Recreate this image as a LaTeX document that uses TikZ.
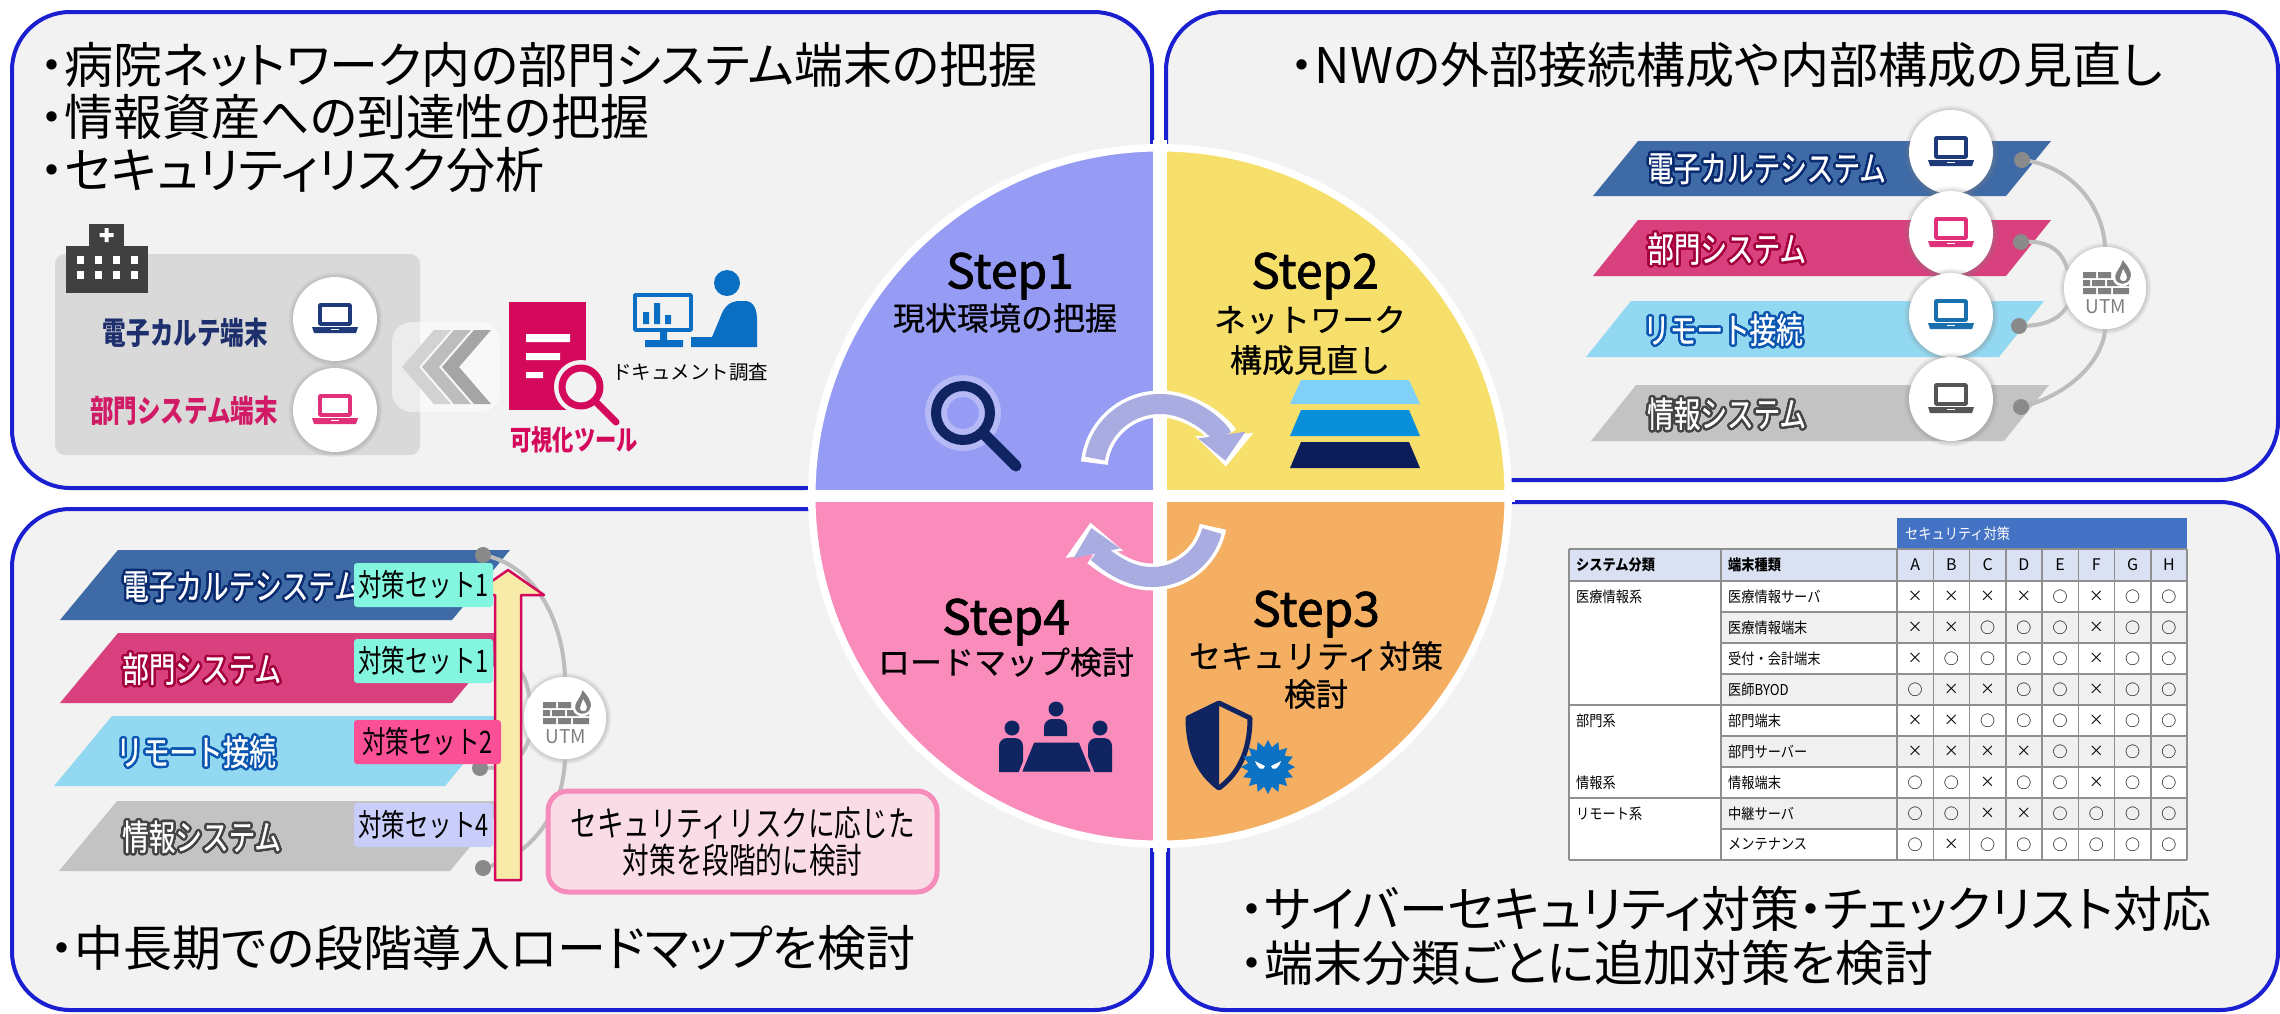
\documentclass[tikz,border=0pt]{standalone}
\usepackage{fontspec}
\setmainfont{Noto Sans CJK JP}
\newfontfamily\headf[RawFeature=+palt]{Noto Sans CJK JP}
\newfontfamily\condf[FakeStretch=0.76]{Noto Sans CJK JP}
\newfontfamily\tablef[FakeStretch=0.88]{Noto Sans CJK JP}
\newfontfamily\stepf[FakeBold=1.6]{Noto Sans CJK JP}
\newfontfamily\subf[FakeBold=0.7]{Noto Sans CJK JP}
\newfontfamily\bandf[FakeStretch=0.76,FakeBold=0.6]{Noto Sans CJK JP}
\usepackage[copies]{contour}
\contourlength{2.4pt}
\contournumber{24}
\usetikzlibrary{shadows,arrows.meta}
\newcommand\setfs[1]{\fontsize{#1}{#1}\selectfont}

\definecolor{panelblue}{HTML}{1A1FD0}
\definecolor{panelbg}{HTML}{F2F2F2}
\definecolor{sOne}{HTML}{969CF3}
\definecolor{sTwo}{HTML}{F7DF6B}
\definecolor{sThree}{HTML}{F5AF62}
\definecolor{sFour}{HTML}{F98CBB}
\definecolor{navy}{HTML}{0F2461}
\definecolor{crim}{HTML}{D4095B}
\definecolor{bandA}{HTML}{3E6AA6}
\definecolor{bandB}{HTML}{D9407E}
\definecolor{bandC}{HTML}{93D8F1}
\definecolor{bandD}{HTML}{C3C3C3}
\definecolor{glowA}{HTML}{0B2B70}
\definecolor{glowB}{HTML}{A3003C}
\definecolor{glowC}{HTML}{0A56B0}
\definecolor{glowD}{HTML}{444444}
\definecolor{lapA}{HTML}{1F3A7A}
\definecolor{lapB}{HTML}{E0307A}
\definecolor{lapC}{HTML}{1A6FAE}
\definecolor{lapD}{HTML}{555555}
\definecolor{wirec}{HTML}{BDBDBD}
\definecolor{dotgray}{HTML}{8A8A8A}
\definecolor{utmgray}{HTML}{7F7F7F}
\definecolor{mint}{HTML}{84F6DF}
\definecolor{tagpink}{HTML}{FB4F96}
\definecolor{lav}{HTML}{C9CDF9}
\definecolor{arrowfill}{HTML}{F8EBAA}
\definecolor{callfill}{HTML}{FADCE7}
\definecolor{calledge}{HTML}{F58CB9}
\definecolor{cyc}{HTML}{A8ACE0}
\definecolor{tblue}{HTML}{4472C4}
\definecolor{thead}{HTML}{D9E1F2}
\definecolor{tgrid}{HTML}{8F8F8F}
\definecolor{trow}{HTML}{F0F0F0}
\definecolor{iconblue}{HTML}{0A6FC2}
\definecolor{layA}{HTML}{80D0F8}
\definecolor{layB}{HTML}{0A8FDB}
\definecolor{layC}{HTML}{0B1E5B}
\definecolor{virus}{HTML}{0B72C4}
\definecolor{bldg}{HTML}{404040}
\definecolor{boxgray}{HTML}{D9D9D9}
\definecolor{chevA}{HTML}{D2D2D2}
\definecolor{chevB}{HTML}{BDBDBD}
\definecolor{chevC}{HTML}{A5A5A5}
\definecolor{lblnavy}{HTML}{1D2F6C}
\definecolor{lblpink}{HTML}{D21B66}

% laptop glyph centred on a named point
\newcommand\laptopicon[2]{%
  \begin{scope}[shift={(#1)}]
    \draw[#2, line width=3.5pt] (-15,-14) rectangle (15,5);
    \fill[#2] (-23,8) -- (23,8) -- (21,14) -- (-21,14) -- cycle;
    \draw[white, line width=1pt] (-4,10.5) -- (4,10.5);
  \end{scope}}

% firewall glyph with caption, centred on a named point
\newcommand\utmicon[1]{%
  \begin{scope}[shift={(#1)}]
    \fill[utmgray] (-22,-16) rectangle (-9,-10) (-7,-16) rectangle (6,-10);
    \fill[utmgray] (-22,-8) rectangle (-15,-2) (-13,-8) rectangle (0,-2)
                   (2,-8) rectangle (15,-2) (17,-8) rectangle (24,-2);
    \fill[utmgray] (-22,0) rectangle (-9,6) (-7,0) rectangle (6,6) (8,0) rectangle (24,6);
    \filldraw[fill=utmgray, draw=white, line width=2.5pt]
      (17,-31) .. controls (23,-23) and (28,-19) .. (27,-11)
      .. controls (26,-5) and (21,-3) .. (17,-3)
      .. controls (11,-3) and (8,-8) .. (9,-13)
      .. controls (10,-18) and (15,-21) .. (17,-31) -- cycle;
    \fill[white] (18,-19) .. controls (21,-14) and (23,-11) .. (21,-8)
      .. controls (19,-6) and (15,-7) .. (15,-10)
      .. controls (15,-13) and (17,-14) .. (18,-19) -- cycle;
    \node[text=utmgray, font=\setfs{19}, inner sep=0pt] (#1-cap) at (1,19) {UTM};
  \end{scope}}

\begin{document}
\begin{tikzpicture}[x=1pt, y=-1pt, line join=round,
  panel/.style={draw=panelblue, line width=4pt, fill=panelbg, rounded corners=58pt},
  headtxt/.style={anchor=west, inner sep=0pt, font=\headf\setfs{49}},
  lapcircle/.style={circle, fill=white, minimum size=84pt, inner sep=0pt,
     circular drop shadow={shadow scale=1.13, shadow xshift=0pt, shadow yshift=0pt, opacity=0.45}},
  utmcircle/.style={lapcircle, minimum size=82pt},
  bandtxt/.style={anchor=west, inner sep=0pt, text=white, font=\bandf\setfs{35}},
  wire/.style={draw=wirec, line width=4pt},
  tagbox/.style={minimum width=139pt, minimum height=44pt, inner sep=0pt, rounded corners=3pt, font=\condf\setfs{31}},
  steptitle/.style={font=\stepf\setfs{48}, inner sep=0pt},
  stepsub/.style={font=\subf\setfs{32}, inner sep=0pt},
  tcell/.style={inner sep=0pt, font=\tablef\setfs{15}},
  tmark/.style={inner sep=0pt, font=\setfs{15}}
]
\useasboundingbox (0,0) rectangle (2280,1013);
\fill[white] (0,0) rectangle (2280,1013);

% ---------------- four panels ----------------
\draw[panel] (12,12) rectangle (1152,488);
\draw[panel] (1166,12) rectangle (2278,480);
\draw[panel] (12,509) rectangle (1152,1010);
\draw[panel] (1168,502) rectangle (2278,1010);

% ---------------- panel 1: current state ----------------
\node[headtxt] (h1a) at (40,65)  {・病院ネットワーク内の部門システム端末の把握};
\node[headtxt] (h1b) at (40,117) {・情報資産への到達性の把握};
\node[headtxt] (h1c) at (40,170) {・セキュリティリスク分析};

\fill[boxgray, rounded corners=10pt] (55,254) rectangle (420,455);
% hospital building
\fill[bldg] (89,224) rectangle (124,247);
\fill[bldg] (66,246) rectangle (148,293);
\fill[white] (104.5,228) rectangle (108.5,242) (99.5,233) rectangle (113.5,237);
\foreach \wx in {77,95,113,131} {
  \fill[white] (\wx,256) rectangle ++(7,8);
  \fill[white] (\wx,271) rectangle ++(7,8);
}
\node[anchor=east, inner sep=0pt, text=lblnavy, font=\condf\bfseries\setfs{31}] (lblA) at (268,333) {電子カルテ端末};
\node[anchor=east, inner sep=0pt, text=lblpink, font=\condf\bfseries\setfs{31}] (lblB) at (278,411) {部門システム端末};
\node[lapcircle] (tlA) at (335,319) {};
\node[lapcircle] (tlB) at (335,410) {};
\laptopicon{tlA}{lapA}
\laptopicon{tlB}{lapB}

% chevrons pointing to the terminals, on a soft white halo
\fill[white, opacity=0.5, rounded corners=20pt] (392,322) rectangle (500,412);
\foreach \L/\c in {402/chevA, 422/chevB, 442/chevC}
  \fill[\c] (\L,367) -- (\L+32,330) -- (\L+49,330) -- (\L+17,367) -- (\L+49,404) -- (\L+32,404) -- cycle;

% visualisation tool: document with magnifier
\fill[crim] (509,302) rectangle (586,410);
\fill[white] (526,334) rectangle (570,342) (526,353) rectangle (560,360) (526,372) rectangle (543,378);
\fill[panelbg] (581,387) circle[radius=27];
\draw[panelbg, line width=13pt, line cap=round] (597,403) -- (615,421);
\draw[crim, line width=7pt] (581,387) circle[radius=19];
\draw[crim, line width=7pt, line cap=round] (596,402) -- (616,422);
\node[inner sep=0pt, text=crim, font=\condf\bfseries\setfs{28}] (vis) at (574,440) {可視化ツール};

% document survey: monitor and person
\draw[iconblue, line width=3.5pt] (635,295) rectangle (691,330);
\fill[iconblue] (643,312) rectangle (649,324) (654,303) rectangle (660,324) (665,315) rectangle (671,324);
\fill[iconblue] (660,332) rectangle (667,340) (645,340) rectangle (683,347);
\fill[iconblue] (727,283) circle[radius=13];
\fill[iconblue] (691,347) -- (691,337) -- (712,337) -- (720,318)
  .. controls (724,306) and (730,301) .. (740,301) -- (745,301)
  .. controls (754,301) and (757,310) .. (757,320) -- (757,347) -- cycle;
\node[inner sep=0pt, font=\setfs{19.5}] (doc) at (690,372) {ドキュメント調査};

% ---------------- panel 2: network review ----------------
\node[headtxt] (h2) at (1290,65) {・NWの外部接続構成や内部構成の見直し};

\fill[bandA] (1593,196) -- (1638,141) -- (2051,141) -- (2006,196) -- cycle;
\fill[bandB] (1593,276) -- (1638,220) -- (2051,220) -- (2006,276) -- cycle;
\fill[bandC] (1586,357) -- (1631,301) -- (2044,301) -- (1999,357) -- cycle;
\fill[bandD] (1591,441) -- (1636,385) -- (2049,385) -- (2004,441) -- cycle;
\node[bandtxt] (rbA) at (1647,170) {\contour{glowA}{電子カルテシステム}};
\node[bandtxt] (rbB) at (1647,250) {\contour{glowB}{部門システム}};
\node[bandtxt] (rbC) at (1643,331) {\contour{glowC}{リモート接続}};
\node[bandtxt] (rbD) at (1647,415) {\contour{glowD}{情報システム}};

\coordinate (dA) at (2022,160);
\coordinate (dB) at (2021,242);
\coordinate (dC) at (2019,326);
\coordinate (dD) at (2021,407);
\node[utmcircle] (utmR) at (2105,288) {};
\draw[wire] (dA) .. controls (2070,165) and (2103,205) .. (utmR.north);
\draw[wire] (dB) .. controls (2045,240) and (2062,248) .. (utmR.155);
\draw[wire] (dC) .. controls (2040,326) and (2058,322) .. (utmR.205);
\draw[wire] (dD) .. controls (2070,395) and (2103,360) .. (utmR.south);
\foreach \d in {dA,dB,dC,dD} \fill[dotgray] (\d) circle[radius=8];
\node[circle, fill=white, minimum size=82pt, inner sep=0pt] (utmRf) at (utmR) {};
\utmicon{utmR}

\node[lapcircle] (rlA) at (1951,152) {};
\node[lapcircle] (rlB) at (1951,233) {};
\node[lapcircle] (rlC) at (1951,315) {};
\node[lapcircle] (rlD) at (1951,399) {};
\laptopicon{rlA}{lapA}
\laptopicon{rlB}{lapB}
\laptopicon{rlC}{lapC}
\laptopicon{rlD}{lapD}

% ---------------- panel 4: roadmap ----------------
\fill[bandA] (60,620) -- (118,550) -- (510,550) -- (452,620) -- cycle;
\fill[bandB] (60,703) -- (118,633) -- (510,633) -- (452,703) -- cycle;
\fill[bandC] (54,786) -- (112,716) -- (503,716) -- (445,786) -- cycle;
\fill[bandD] (59,871) -- (117,801) -- (508,801) -- (450,871) -- cycle;
\node[bandtxt] (lbA) at (122,588) {\contour{glowA}{電子カルテシステム}};
\node[bandtxt] (lbB) at (122,670) {\contour{glowB}{部門システム}};
\node[bandtxt] (lbC) at (116,753) {\contour{glowC}{リモート接続}};
\node[bandtxt] (lbD) at (122,838) {\contour{glowD}{情報システム}};

\coordinate (eA) at (483,555);
\coordinate (eB) at (490,660);
\coordinate (eC) at (480,768);
\coordinate (eD) at (483,868);
\node[utmcircle] (utmL) at (565,718) {};
\draw[wire] (eA) .. controls (535,565) and (563,620) .. (utmL.north);
\draw[wire] (eB) .. controls (510,660) and (525,665) .. (utmL.150);
\draw[wire] (eC) .. controls (505,768) and (520,765) .. (utmL.210);
\draw[wire] (eD) .. controls (535,855) and (563,810) .. (utmL.south);
\foreach \d in {eA,eB,eC,eD} \fill[dotgray] (\d) circle[radius=8];
\node[circle, fill=white, minimum size=82pt, inner sep=0pt] (utmLf) at (utmL) {};
\utmicon{utmL}

% staged upgrade arrow
\filldraw[fill=arrowfill, draw=crim, line width=2.5pt]
  (495,880) -- (495,595) -- (472,595) -- (508,570) -- (544,595) -- (521,595) -- (521,880) -- cycle;

\node[tagbox, fill=mint]    (tgA) at (423.5,585) {対策セット1};
\node[tagbox, fill=mint]    (tgB) at (423.5,661) {対策セット1};
\node[tagbox, fill=tagpink, minimum width=147pt] (tgC) at (427.5,742) {対策セット2};
\node[tagbox, fill=lav]     (tgD) at (423.5,825) {対策セット4};

\node[draw=calledge, line width=5pt, fill=callfill, rounded corners=20pt,
      minimum width=389pt, minimum height=101pt, align=center, inner sep=0pt,
      font=\condf\fontsize{35}{37}\selectfont] (note) at (742.5,841.5)
      {セキュリティリスクに応じた\\対策を段階的に検討};

\node[headtxt] (h4) at (50,948) {・中長期での段階導入ロードマップを検討};

% ---------------- panel 3: security measures table ----------------
\fill[tblue] (1897,518) rectangle (2187,549);
\fill[thead] (1569,549) rectangle (2187,581);
\fill[white] (1569,581) rectangle (2187,860);
\foreach \r in {1,3,5,7}
  \fill[trow] (1721,{581+31*\r}) rectangle (2187,{612+31*\r});
\begin{scope}[tgrid, line width=1.5pt]
  \foreach \x in {1569,1721,1897,1933.25,1969.5,2005.75,2042,2078.25,2114.5,2150.75,2187}
    \draw (\x,549) -- (\x,860);
  \draw (1569,549) -- (2187,549);
  \draw (1569,581) -- (2187,581);
  \foreach \k in {1,...,9} \draw (1721,{581+31*\k}) -- (2187,{581+31*\k});
  \draw (1569,705) -- (1721,705);
  \draw (1569,798) -- (1721,798);
  \draw (1569,860) -- (1721,860);
\end{scope}
\node[tcell, anchor=west, text=white] (tcap) at (1905,533.5) {セキュリティ対策};
\node[tcell, anchor=west, font=\tablef\bfseries\setfs{15}] (tcA) at (1576,565) {システム分類};
\node[tcell, anchor=west, font=\tablef\bfseries\setfs{15}] (tcB) at (1728,565) {端末種類};
\foreach \L [count=\i from 0] in {A,B,C,D,E,F,G,H}
  \node[tcell, font=\setfs{16}] (col\L) at ({1915.125+36.25*\i},565) {\L};
\node[tcell, anchor=west] (grA) at (1576,596.5) {医療情報系};
\node[tcell, anchor=west] (grB) at (1576,720.5) {部門系};
\node[tcell, anchor=west] (grC) at (1576,782.5) {情報系};
\node[tcell, anchor=west] (grD) at (1576,813.5) {リモート系};
\foreach \nm [count=\k from 0] in {医療情報サーバ,医療情報端末,受付・会計端末,医師BYOD,部門端末,部門サーバー,情報端末,中継サーバ,メンテナンス}
  \node[tcell, anchor=west] (tn\k) at (1728,{596.5+31*\k}) {\nm};
\foreach \row [count=\k from 0] in {
  {×,×,×,×,○,×,○,○},
  {×,×,○,○,○,×,○,○},
  {×,○,○,○,○,×,○,○},
  {○,×,×,○,○,×,○,○},
  {×,×,○,○,○,×,○,○},
  {×,×,×,×,○,×,○,○},
  {○,○,×,○,○,×,○,○},
  {○,○,×,×,○,○,○,○},
  {○,×,○,○,○,○,○,○}}
  \foreach \m [count=\i from 0] in \row
    \node[tmark] (mk-\k-\i) at ({1915.125+36.25*\i},{596.5+31*\k}) {\m};

\node[headtxt] (h3a) at (1240,909) {・サイバーセキュリティ対策・チェックリスト対応};
\node[headtxt] (h3b) at (1240,963) {・端末分類ごとに追加対策を検討};

% ---------------- central four-step wheel ----------------
\coordinate (hub) at (1160,496);
\fill[white] (hub) circle[radius=352];
\fill[sOne]   (hub) -- ++(180:347) arc[start angle=180, end angle=270, radius=347] -- cycle;
\fill[sTwo]   (hub) -- ++(270:347) arc[start angle=270, end angle=360, radius=347] -- cycle;
\fill[sThree] (hub) -- ++(0:347)   arc[start angle=0,   end angle=90,  radius=347] -- cycle;
\fill[sFour]  (hub) -- ++(90:347)  arc[start angle=90,  end angle=180, radius=347] -- cycle;
\draw[white, line width=14pt] (1160,140) -- (1160,852);
\draw[white, line width=12pt] (805,496) -- (1515,496);
\draw[white, line width=5pt] (hub) circle[radius=347];

% cycle arrows
\draw[white, line width=27pt, -{Triangle[width=56pt,length=32pt]}]
  (1160,470) ++(-174:66) arc[start angle=-174, end angle=-3, radius=66];
\draw[cyc, line width=20pt, -{Triangle[width=46pt,length=26pt]}]
  (1160,470) ++(-170:66) arc[start angle=-170, end angle=-8, radius=66];
\draw[white, line width=27pt, -{Triangle[width=56pt,length=32pt]}]
  (1152,515) ++(11:62) arc[start angle=11, end angle=173, radius=62];
\draw[cyc, line width=20pt, -{Triangle[width=46pt,length=26pt]}]
  (1152,515) ++(15:62) arc[start angle=15, end angle=168, radius=62];

% step 1
\node[steptitle] (s1t) at (1010,276) {Step1};
\node[stepsub]   (s1s) at (1005,318) {現状環境の把握};
\draw[white, opacity=0.3, line width=22pt] (963,413) circle[radius=27];
\draw[navy, line width=10pt] (963,413) circle[radius=27];
\draw[navy, line width=11pt, line cap=round] (984,434) -- (1016,466);

% step 2
\node[steptitle] (s2t) at (1315,276) {Step2};
\node[stepsub]   (s2s) at (1310,320) {ネットワーク};
\node[stepsub]   (s2u) at (1310,360) {構成見直し};
\fill[layA] (1301,380) -- (1409,380) -- (1420,404) -- (1290,404) -- cycle;
\fill[layB] (1301,410) -- (1409,410) -- (1420,436) -- (1290,436) -- cycle;
\fill[layC] (1301,442) -- (1409,442) -- (1420,468) -- (1290,468) -- cycle;

% step 3
\node[steptitle] (s3t) at (1316,614) {Step3};
\node[stepsub]   (s3s) at (1316,656) {セキュリティ対策};
\node[stepsub]   (s3u) at (1316,694) {検討};
\fill[navy] (1219,703) -- (1188,718) .. controls (1188,752) and (1200,774) .. (1219,788) -- cycle;
\draw[navy, line width=5pt] (1219,703) -- (1250,718) .. controls (1250,752) and (1238,774) .. (1219,788)
  .. controls (1200,774) and (1188,752) .. (1188,718) -- cycle;
\fill[virus] ({1268+27},767) \foreach \a in {1,...,31} {
  -- ({1268+(27-7*mod(\a,2))*cos(\a*11.25)},{767+(27-7*mod(\a,2))*sin(\a*11.25)}) } -- cycle;
\fill[white] (1255,761) -- (1265,766) .. controls (1264,771) and (1258,770) .. (1255,761) -- cycle;
\fill[white] (1281,761) -- (1271,766) .. controls (1272,771) and (1278,770) .. (1281,761) -- cycle;

% step 4
\node[steptitle] (s4t) at (1006,622) {Step4};
\node[stepsub]   (s4s) at (1006,662) {ロードマップ検討};
\fill[navy] (1012,728) circle[radius=7.5] (1056,709) circle[radius=7.5] (1100,728) circle[radius=7.5];
\fill[navy] (999,772) -- (999,746) arc[start angle=180, end angle=270, radius=8] -- (1015,738)
  arc[start angle=270, end angle=360, radius=8] -- (1023,772) -- cycle;
\fill[navy] (1088,772) -- (1088,746) arc[start angle=180, end angle=270, radius=8] -- (1104,738)
  arc[start angle=270, end angle=360, radius=8] -- (1112,772) -- cycle;
\fill[navy] (1044,736) -- (1044,727) arc[start angle=180, end angle=270, radius=8] -- (1059,719)
  arc[start angle=270, end angle=360, radius=8] -- (1067,736) -- cycle;
\filldraw[fill=navy, draw=sFour, line width=3pt] (1033,741) -- (1080,741) -- (1093,773) -- (1020,773) -- cycle;
\end{tikzpicture}
\end{document}
